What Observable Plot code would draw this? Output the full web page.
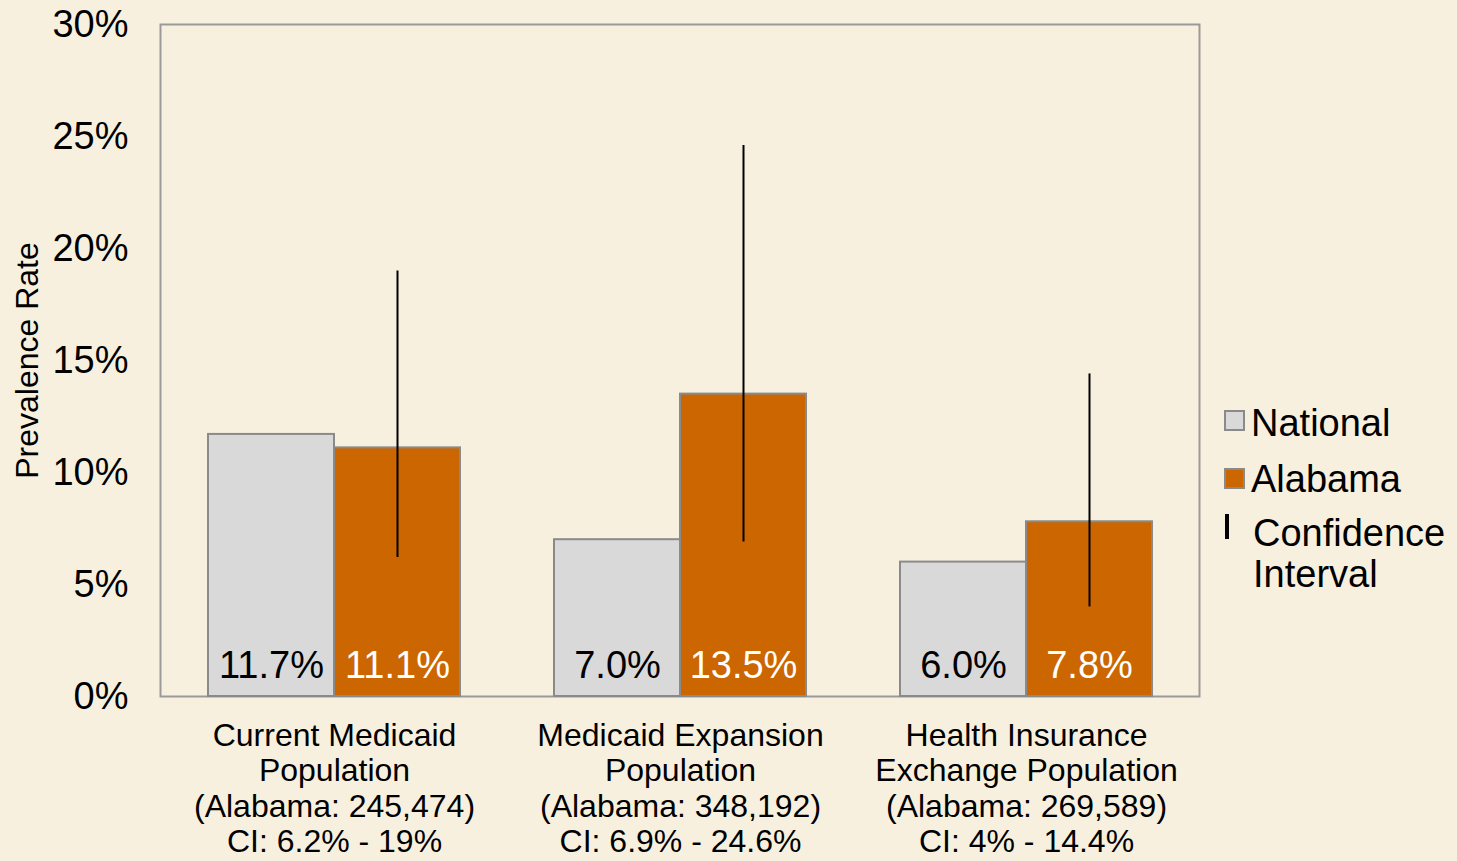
<!DOCTYPE html>
<html>
<head>
<meta charset="utf-8">
<script src="https://cdn.jsdelivr.net/npm/d3@7"></script>
<script src="https://cdn.jsdelivr.net/npm/@observablehq/plot@0.6"></script>
<style>
  html, body { margin: 0; padding: 0; background: #F8F0DF; }
  #wrap { position: relative; width: 1457px; height: 861px; font-family: "Liberation Sans", Arial, sans-serif; }
  .leg { position: absolute; font-size: 38px; color: #000; line-height: 38px; white-space: nowrap; }
  .sw { position: absolute; width: 17px; height: 17px; border: 2px solid #8a8a8a; }
  .ci { position: absolute; width: 4px; height: 25px; background: #000; }
</style>
</head>
<body>
<div id="wrap"></div>
<script>
const categories = [
  "Current Medicaid\nPopulation\n(Alabama: 245,474)\nCI: 6.2% - 19%",
  "Medicaid Expansion\nPopulation\n(Alabama: 348,192)\nCI: 6.9% - 24.6%",
  "Health Insurance\nExchange Population\n(Alabama: 269,589)\nCI: 4% - 14.4%"
];
const national = [11.7, 7.0, 6.0];
const alabama = [11.1, 13.5, 7.8];
const ciLow = [6.2, 6.9, 4.0];
const ciHigh = [19.0, 24.6, 14.4];
const yTicks = [0, 5, 10, 15, 20, 25, 30];

const data = categories.map((c, i) => ({
  category: c, national: national[i], alabama: alabama[i], lo: ciLow[i], hi: ciHigh[i]
}));

const chart = Plot.plot({
  width: 1457,
  height: 861,
  marginLeft: 160,
  marginRight: 258,
  marginTop: 24,
  marginBottom: 165,
  style: { background: "#F8F0DF", fontFamily: "Liberation Sans, Arial, sans-serif", color: "#000" },
  x: { domain: categories, padding: 0 },
  y: { domain: [0, 30] },
  marks: [
    Plot.frame({ stroke: "#9a9a9a", strokeWidth: 2 }),
    Plot.barY(data, { x: "category", y: "national", insetLeft: 47, insetRight: 173, fill: "#D9D9D9", stroke: "#8a8a8a", strokeWidth: 2 }),
    Plot.barY(data, { x: "category", y: "alabama", insetLeft: 173, insetRight: 47, fill: "#CC6600", stroke: "#8a8a8a", strokeWidth: 2 }),
    Plot.ruleX(data, { x: "category", y1: "lo", y2: "hi", dx: 63, stroke: "#000", strokeWidth: 2 }),
    Plot.text(data, { x: "category", y: 0, text: d => d.national.toFixed(1) + "%", dx: -63, dy: -31, fontSize: 38, fill: "#000" }),
    Plot.text(data, { x: "category", y: 0, text: d => d.alabama.toFixed(1) + "%", dx: 63, dy: -31, fontSize: 38, fill: "#fff" }),
    Plot.axisY({ ticks: yTicks, tickFormat: d => d + "%", tickSize: 0, tickPadding: 32, fontSize: 38, label: null }),
    Plot.axisX({ tickSize: 0, tickPadding: 24, fontSize: 32, lineHeight: 1.11, label: null }),
    Plot.text(["Prevalence Rate"], { frameAnchor: "left", rotate: -90, textAnchor: "middle", dx: -133, fontSize: 32, fill: "#000" })
  ]
});

const wrap = document.getElementById("wrap");
wrap.appendChild(chart);

const legend = [
  { color: "#D9D9D9", label: "National", top: 410, textTop: 404 },
  { color: "#CC6600", label: "Alabama", top: 468, textTop: 460 }
];
legend.forEach(l => {
  const s = document.createElement("div");
  s.className = "sw";
  s.style.left = "1224px"; s.style.top = l.top + "px"; s.style.background = l.color;
  wrap.appendChild(s);
  const t = document.createElement("div");
  t.className = "leg"; t.textContent = l.label;
  t.style.left = "1251px"; t.style.top = l.textTop + "px";
  wrap.appendChild(t);
});
const ci = document.createElement("div");
ci.className = "ci"; ci.style.left = "1225px"; ci.style.top = "514px";
wrap.appendChild(ci);
const ct = document.createElement("div");
ct.className = "leg"; ct.style.left = "1253px"; ct.style.top = "513px"; ct.style.lineHeight = "41px";
ct.innerHTML = "Confidence<br>Interval";
wrap.appendChild(ct);
</script>
</body>
</html>
